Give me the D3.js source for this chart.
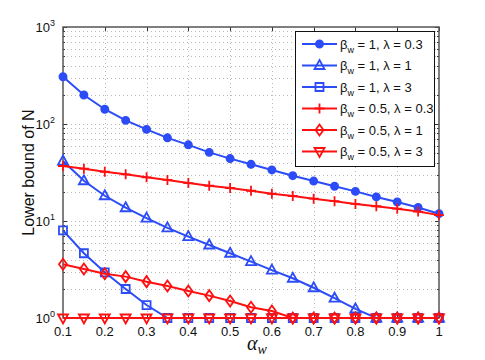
<!DOCTYPE html>
<html>
<head>
<meta charset="utf-8">
<script src="https://cdn.jsdelivr.net/npm/d3@7"></script>
<style>
  body { margin: 0; background: #fff; }
  svg { display: block; font-family: Helvetica, "Liberation Sans", Arial, sans-serif; }
</style>
</head>
<body>
<script>
// alpha_w values shared by every series
const alphaW = [0.1, 0.15, 0.2, 0.25, 0.3, 0.35, 0.4, 0.45, 0.5, 0.55,
                0.6, 0.65, 0.7, 0.75, 0.8, 0.85, 0.9, 0.95, 1];

const b1l03 = [307, 199, 142, 109, 88, 72, 61, 51, 44, 38.4,
               33.6, 29.3, 25.8, 22.8, 20.2, 17.7, 15.7, 13.8, 11.9];
const b1l1 = [41.5, 26, 18.2, 13.7, 10.7, 8.5, 6.9, 5.66, 4.65, 3.81,
              3.12, 2.57, 2.05, 1.6, 1.24, 1, 1, 1, 1];
const b1l3 = [8.0, 4.65, 2.96, 1.99, 1.36, 1, 1, 1, 1, 1,
              1, 1, 1, 1, 1, 1, 1, 1, 1];
const b05l03 = [36.9, 34.6, 32.2, 30.3, 28.2, 26.5, 24.6, 23.1, 21.9, 20.5,
                19.1, 18.1, 17.0, 16.0, 15.0, 14.2, 13.4, 12.5, 11.5];
const b05l1 = [3.58, 3.2, 2.86, 2.67, 2.37, 2.14, 1.9, 1.7, 1.5, 1.29,
               1.18, 1, 1, 1, 1, 1, 1, 1, 1];
const b05l3 = [1, 1, 1, 1, 1, 1, 1, 1, 1, 1,
               1, 1, 1, 1, 1, 1, 1, 1, 1];

const seriesBeta = ['1', '1', '1', '0.5', '0.5', '0.5'];
const seriesLambda = ['0.3', '1', '3', '0.3', '1', '3'];

const xTicks = [0.1, 0.2, 0.3, 0.4, 0.5, 0.6, 0.7, 0.8, 0.9, 1];
const yTicks = [1, 10, 100, 1000];

const blue = '#2b4cf7';
const red = '#ff1010';

const series = [
  { values: b1l03, color: blue, marker: 'dot' },
  { values: b1l1, color: blue, marker: 'tri' },
  { values: b1l3, color: blue, marker: 'square' },
  { values: b05l03, color: red, marker: 'plus' },
  { values: b05l1, color: red, marker: 'diamond' },
  { values: b05l3, color: red, marker: 'tridown' }
].map((s, i) => ({ ...s, beta: seriesBeta[i], lambda: seriesLambda[i] }));

const W = 485, H = 360;
const pLeft = 63, pRight = 439, pTop = 27, pBottom = 318;

const svg = d3.select('body').append('svg')
  .attr('width', W).attr('height', H);

const x = d3.scaleLinear().domain([0.1, 1]).range([pLeft, pRight]);
const y = d3.scaleLog().domain([1, 1000]).range([pBottom, pTop]);

// minor values for log grid
const minors = [];
for (const d of [1, 10, 100]) for (let k = 2; k <= 9; k++) minors.push(d * k);

const grid = svg.append('g')
  .attr('stroke', '#b8b8b8').attr('stroke-width', 1)
  .attr('stroke-dasharray', '1,3');
grid.selectAll('.gx').data(xTicks.slice(1, -1)).join('line')
  .attr('class', 'gx')
  .attr('x1', d => Math.round(x(d)) + 0.5).attr('x2', d => Math.round(x(d)) + 0.5)
  .attr('y1', pTop).attr('y2', pBottom);
grid.selectAll('.gy').data(minors.concat([10, 100])).join('line')
  .attr('class', 'gy')
  .attr('x1', pLeft).attr('x2', pRight)
  .attr('y1', d => Math.round(y(d)) + 0.5).attr('y2', d => Math.round(y(d)) + 0.5);

// ticks on all four sides
const tk = svg.append('g').attr('stroke', '#333').attr('stroke-width', 1);
xTicks.forEach(d => {
  const px = Math.round(x(d)) + 0.5;
  tk.append('line').attr('x1', px).attr('x2', px).attr('y1', pBottom).attr('y2', pBottom - 4);
  tk.append('line').attr('x1', px).attr('x2', px).attr('y1', pTop).attr('y2', pTop + 4);
});
yTicks.forEach(d => {
  const py = Math.round(y(d)) + 0.5;
  tk.append('line').attr('x1', pLeft).attr('x2', pLeft + 4).attr('y1', py).attr('y2', py);
  tk.append('line').attr('x1', pRight).attr('x2', pRight - 4).attr('y1', py).attr('y2', py);
});
minors.forEach(d => {
  const py = Math.round(y(d)) + 0.5;
  tk.append('line').attr('x1', pLeft).attr('x2', pLeft + 2).attr('y1', py).attr('y2', py);
  tk.append('line').attr('x1', pRight).attr('x2', pRight - 2).attr('y1', py).attr('y2', py);
});

// axis box
svg.append('rect')
  .attr('x', pLeft).attr('y', pTop)
  .attr('width', pRight - pLeft).attr('height', pBottom - pTop)
  .attr('fill', 'none').attr('stroke', '#555').attr('stroke-width', 1.5);

// tick labels
svg.append('g').selectAll('text').data(xTicks).join('text')
  .attr('x', d => x(d)).attr('y', pBottom + 18)
  .attr('text-anchor', 'middle').attr('font-size', 13).attr('fill', '#111')
  .text(d => d3.format('~g')(d));

const yl = svg.append('g').selectAll('text').data(yTicks).join('text')
  .attr('x', pLeft - 8).attr('y', d => y(d) + 5)
  .attr('text-anchor', 'end').attr('font-size', 13).attr('fill', '#111');
yl.append('tspan').text('10');
yl.append('tspan').attr('dy', -6).attr('font-size', 9).text(d => Math.round(Math.log10(d)));

// axis titles
svg.append('text')
  .attr('transform', `translate(34,${(pTop + pBottom) / 2}) rotate(-90)`)
  .attr('text-anchor', 'middle').attr('font-size', 16).attr('fill', '#111')
  .text('Lower bound of N');

const xt = svg.append('text')
  .attr('x', 257).attr('y', 350)
  .attr('text-anchor', 'middle').attr('fill', '#111')
  .attr('font-family', '"Liberation Serif", "DejaVu Serif", serif')
  .attr('font-style', 'italic').attr('font-size', 20);
xt.append('tspan').text('α');
xt.append('tspan').attr('dy', 4).attr('font-size', 14).text('w');

// markers
function markerPath(type) {
  switch (type) {
    case 'dot': return d3.symbol(d3.symbolCircle, 40)();
    case 'tri': return 'M0,-5.5L5,3.5L-5,3.5Z';
    case 'tridown': return 'M0,5.5L5,-3.5L-5,-3.5Z';
    case 'square': return 'M-4,-4H4V4H-4Z';
    case 'diamond': return 'M0,-5.5L4,0L0,5.5L-4,0Z';
    case 'plus': return 'M-5,0H5M0,-5V5';
  }
}

const line = d3.line().x(d => x(d[0])).y(d => y(d[1]));

const plot = svg.append('g');
series.forEach(s => {
  const pts = alphaW.map((a, i) => [a, s.values[i]]);
  const g = plot.append('g');
  g.append('path').datum(pts)
    .attr('d', line).attr('fill', 'none')
    .attr('stroke', s.color).attr('stroke-width', 2);
  g.selectAll('path.m').data(pts).join('path')
    .attr('class', 'm')
    .attr('transform', d => `translate(${x(d[0])},${y(d[1])})`)
    .attr('d', markerPath(s.marker))
    .attr('fill', s.marker === 'dot' ? s.color : 'none')
    .attr('stroke', s.color).attr('stroke-width', 1.8);
});

// legend
const lg = svg.append('g').attr('transform', 'translate(295,31)');
lg.append('rect')
  .attr('x', 0.5).attr('y', 0.5).attr('width', 139).attr('height', 135)
  .attr('fill', '#fff').attr('stroke', '#111').attr('stroke-width', 1);
series.forEach((s, i) => {
  const ly = 13 + i * 21.5;
  lg.append('line').attr('x1', 7).attr('x2', 42).attr('y1', ly).attr('y2', ly)
    .attr('stroke', s.color).attr('stroke-width', 2);
  lg.append('path').attr('transform', `translate(24.5,${ly})`)
    .attr('d', markerPath(s.marker))
    .attr('fill', s.marker === 'dot' ? s.color : 'none')
    .attr('stroke', s.color).attr('stroke-width', 1.8);
  const t = lg.append('text').attr('x', 45).attr('y', ly + 4.5)
    .attr('font-size', 13).attr('fill', '#111');
  t.append('tspan').text('β');
  t.append('tspan').attr('dy', 4).attr('font-size', 9).text('w');
  t.append('tspan').attr('dy', -4).text(` = ${s.beta}, λ = ${s.lambda}`);
});
</script>
</body>
</html>
